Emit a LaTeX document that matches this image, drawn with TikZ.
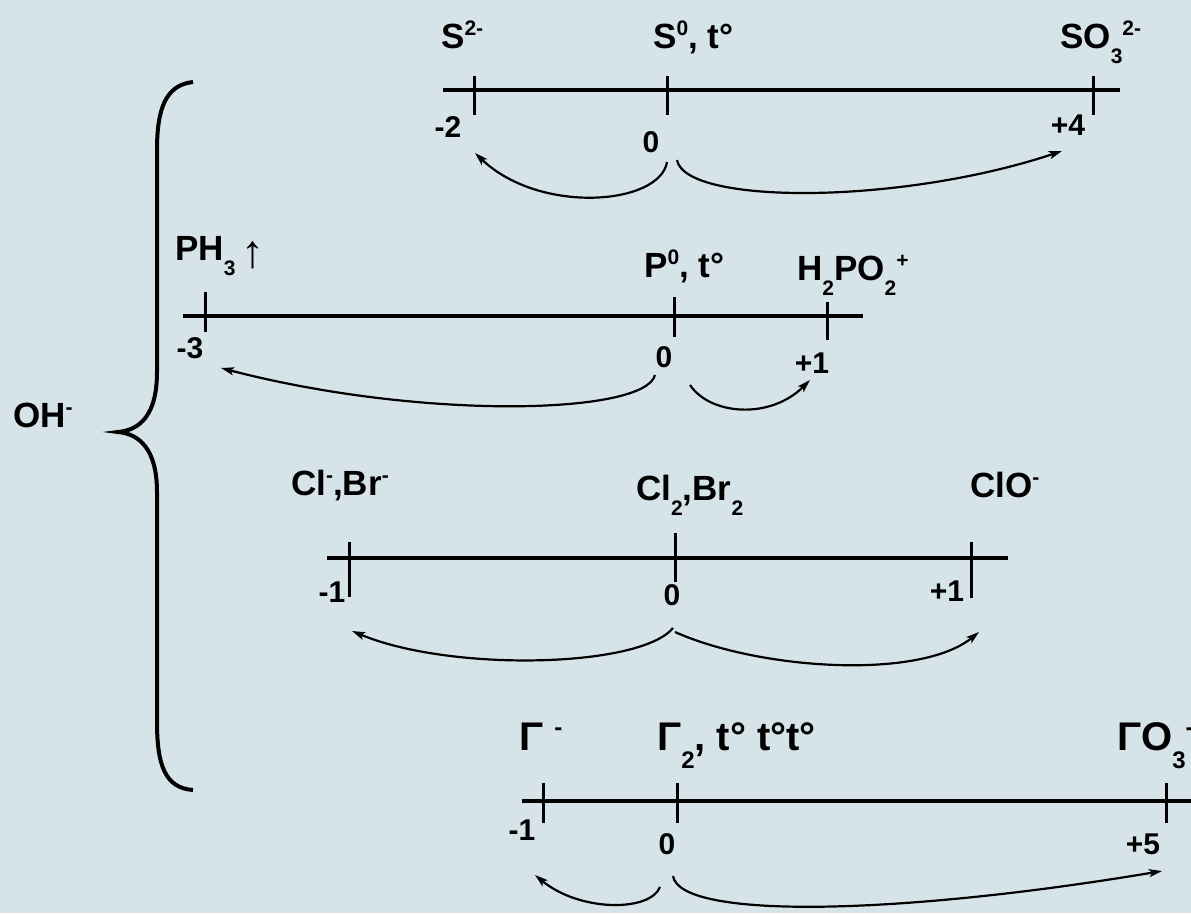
\documentclass[tikz,border=0pt]{standalone}
\usepackage{fontspec}
\setmainfont{Liberation Sans}
\usetikzlibrary{arrows.meta}
\definecolor{bgc}{RGB}{214,227,233}
\newcommand\sps[1]{\raisebox{0.36em}{\fontsize{0.6em}{0.6em}\selectfont #1}}
\newcommand\sbs[1]{\raisebox{-0.45em}{\fontsize{0.6em}{0.6em}\selectfont #1}}
\begin{document}
\begin{tikzpicture}[x=1pt,y=-1pt,
  lbl/.style={inner sep=0pt,anchor=base west,font=\fontsize{35}{40}\selectfont\bfseries},
  biglbl/.style={lbl,font=\fontsize{40}{44}\selectfont\bfseries},
  num/.style={inner sep=0pt,anchor=center,font=\fontsize{30}{34}\selectfont\bfseries},
  axis/.style={line width=4pt},
  tickln/.style={line width=3pt},
  arr/.style={line width=2.2pt,-{Stealth[length=13pt,width=8pt,inset=3pt]}},
  bracestyle/.style={line width=4pt}]
\fill[bgc] (0,0) rectangle (1191,913);
\useasboundingbox (0,0) rectangle (1191,913);

% ---------- brace and OH-
\draw[bracestyle] (193,82) .. controls (165,85) and (157,110) .. (157,150) -- (157,372)
  .. controls (157,415) and (140,430) .. (118,432)
  .. controls (140,434) and (157,450) .. (157,492) -- (157,722)
  .. controls (157,765) and (165,788) .. (193,790);
\node[lbl] (oh) at (13,427) {OH\sps{-}};

% ---------- S row
\coordinate (sL) at (443,90); \coordinate (sR) at (1120,90);
\draw[axis] (sL) -- (sR);
\draw[tickln] (474,76) -- (474,115);
\draw[tickln] (667,76) -- (667,115);
\draw[tickln] (1093,76) -- (1093,115);
\node[lbl] (s2) at (441,48) {S\sps{2-}};
\node[lbl] (s0) at (653,48) {S\sps{0}, t°};
\node[lbl] (so3) at (1060,48) {SO\sbs{3}\sps{2-}};
\node[num] (sm2) at (448,127) {-2};
\node[num] (sz) at (651,142) {0};
\node[num] (sp4) at (1068,125) {+4};
\coordinate (sa0) at (667,162); \coordinate (sa1) at (677,160);
\coordinate (saL) at (475,153); \coordinate (saR) at (1062,151);
\draw[arr] (sa0) .. controls (660,205) and (540,215) .. (saL);
\draw[arr] (sa1) .. controls (685,205) and (900,205) .. (saR);

% ---------- P row
\coordinate (pL) at (183,316); \coordinate (pR) at (863,316);
\draw[axis] (pL) -- (pR);
\draw[tickln] (205,292) -- (205,332);
\draw[tickln] (674,297) -- (674,337);
\draw[tickln] (827,302) -- (827,340);
\node[lbl] (ph3) at (175,260) {PH\sbs{3}\,\raisebox{-0.2em}{\mdseries\fontsize{46}{46}\selectfont ↑}};
\node[lbl] (p0) at (644,277) {P\sps{0}, t°};
\node[lbl] (h2po2) at (797,280) {H\sbs{2}PO\sbs{2}\sps{+}};
\node[num] (pm3) at (190,348) {-3};
\node[num] (pz) at (664,357) {0};
\node[num] (pp1) at (812,363) {+1};
\coordinate (pa0) at (655,375); \coordinate (pa1) at (690,385);
\coordinate (paL) at (221,368); \coordinate (paR) at (810,380);
\draw[arr] (pa0) .. controls (645,415) and (420,420) .. (paL);
\draw[arr] (pa1) .. controls (710,415) and (770,420) .. (paR);

% ---------- Cl row
\coordinate (cL) at (327,558); \coordinate (cR) at (1008,558);
\draw[axis] (cL) -- (cR);
\draw[tickln] (349,542) -- (349,597);
\draw[tickln] (675,533) -- (675,582);
\draw[tickln] (971,542) -- (971,598);
\node[lbl] (clm) at (291,495) {Cl\sps{-},Br\sps{-}};
\node[lbl] (cl2) at (636,500) {Cl\sbs{2},Br\sbs{2}};
\node[lbl] (clo) at (970,497) {ClO\sps{-}};
\node[num] (cm1) at (332,592) {-1};
\node[num] (cz) at (672,595) {0};
\node[num] (cp1) at (947,591) {+1};
\coordinate (ca0) at (673,628); \coordinate (ca1) at (675,632);
\coordinate (caL) at (352,631); \coordinate (caR) at (979,632);
\draw[arr] (ca0) .. controls (640,668) and (450,672) .. (caL);
\draw[arr] (ca1) .. controls (760,670) and (920,680) .. (caR);

% ---------- I row
\coordinate (iL) at (522,801); \coordinate (iR) at (1195,801);
\draw[axis] (iL) -- (iR);
\draw[tickln] (543,783) -- (543,823);
\draw[tickln] (677,783) -- (677,823);
\draw[tickln] (1166,783) -- (1166,823);
\node[biglbl] (im) at (519,750) {Γ \sps{-}};
\node[biglbl] (i2) at (657,750) {Γ\sbs{2}, t° t°t°};
\node[biglbl] (io3) at (1117,750) {ΓO\sbs{3}\sps{-}};
\node[num] (im1) at (522,830) {-1};
\node[num] (iz) at (667,844) {0};
\node[num] (ip5) at (1143,844) {+5};
\coordinate (ia0) at (660,887); \coordinate (ia1) at (673,876);
\coordinate (iaL) at (535,875); \coordinate (iaR) at (1162,871);
\draw[arr] (ia0) .. controls (650,912) and (580,912) .. (iaL);
\draw[arr] (ia1) .. controls (680,920) and (900,915) .. (iaR);
\end{tikzpicture}
\end{document}
